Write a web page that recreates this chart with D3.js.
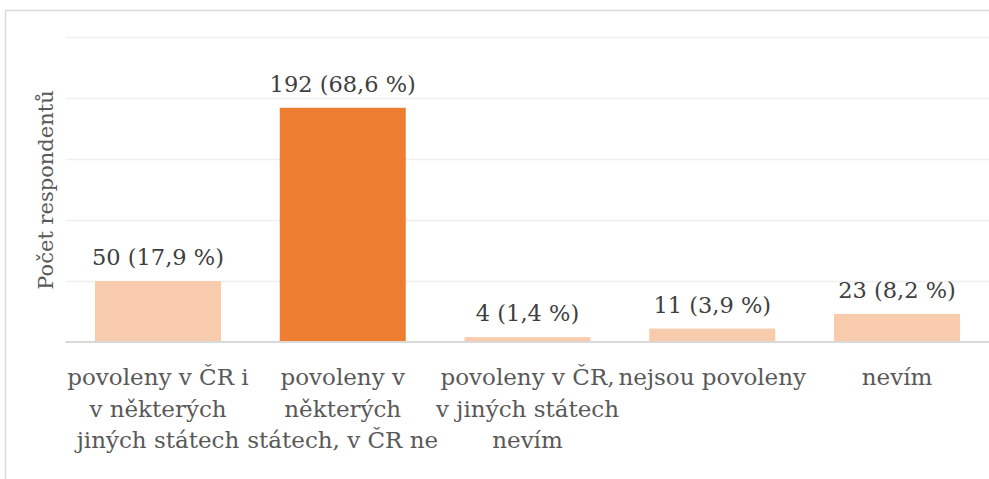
<!DOCTYPE html>
<html>
<head>
<meta charset="utf-8">
<script src="https://cdn.jsdelivr.net/npm/d3@7/dist/d3.min.js"></script>
<style>
  html, body { margin: 0; padding: 0; background: #fff; }
  svg { display: block; }
</style>
</head>
<body>
<svg id="chart" width="989" height="479"></svg>
<script>
// answers (tick labels are wrapped the same way as in the original)
var categories = [
  "povoleny v ČR i v některých jiných státech",
  "povoleny v některých státech, v ČR ne",
  "povoleny v ČR, v jiných státech nevím",
  "nejsou povoleny",
  "nevím"
];
var tickLines = [
  ["povoleny v ČR i", "v některých", "jiných státech"],
  ["povoleny v", "některých", "státech, v ČR ne"],
  ["povoleny v ČR,", "v jiných státech", "nevím"],
  ["nejsou povoleny"],
  ["nevím"]
];
var counts = [50, 192, 4, 11, 23];
var percents = ["17,9", "68,6", "1,4", "3,9", "8,2"];
var yTicks = [0, 50, 100, 150, 200, 250];
var highlight = "povoleny v některých státech, v ČR ne";

var svg = d3.select('#chart');
// Times-like fonts aren't picked up here, DejaVu Serif is
var fontFam = 'DejaVu Serif';

const plotLeft = 65.6, plotRight = 989.4, plotTop = 37, plotBottom = 342;

// chart area frame (runs off the page right and bottom)
svg.append('rect')
  .attr('x', 5.5).attr('y', 10.5)
  .attr('width', 1000).attr('height', 500)
  .attr('fill', 'none')
  .attr('stroke', '#d9d9d9')
  .attr('stroke-width', 1.5);

const xScale = d3.scaleBand()
  .domain(categories)
  .range([plotLeft, plotRight])
  .paddingInner(0.318)
  .paddingOuter(0.159);

const yScale = d3.scaleLinear()
  .domain([0, 250])
  .range([plotBottom, plotTop]);

// horizontal grid
svg.append('g')
  .selectAll('line')
  .data(yTicks.filter(t => t > 0))
  .enter()
  .append('line')
  .attr('x1', plotLeft).attr('x2', plotRight)
  .attr('y1', d => yScale(d) + 0.5)
  .attr('y2', d => yScale(d) + 0.5)
  .attr('stroke', '#efefef')
  .attr('stroke-width', 1.3);

// bars
svg.append('g')
  .selectAll('rect')
  .data(categories)
  .enter()
  .append('rect')
  .attr('x', d => xScale(d))
  .attr('y', (d, i) => yScale(counts[i]))
  .attr('width', xScale.bandwidth())
  .attr('height', (d, i) => yScale(0) - yScale(counts[i]))
  .attr('fill', d => d === highlight ? '#ed7d31' : '#f8cbad');

// x axis line
svg.append('line')
  .attr('x1', plotLeft).attr('x2', plotRight)
  .attr('y1', yScale(0)).attr('y2', yScale(0))
  .attr('stroke', '#d9d9d9')
  .attr('stroke-width', 2);

// value labels
svg.append('g')
  .selectAll('text')
  .data(categories)
  .enter()
  .append('text')
  .attr('x', d => xScale(d) + xScale.bandwidth() / 2)
  .attr('y', (d, i) => yScale(counts[i]) - 16)
  .attr('text-anchor', 'middle')
  .style('font-family', fontFam)
  .attr('font-size', 22.5)
  .attr('fill', '#404040')
  .text((d, i) => `${counts[i]} (${percents[i]} %)`);

// category labels
const tickG = svg.append('g')
  .selectAll('text')
  .data(categories)
  .enter()
  .append('text')
  .attr('text-anchor', 'middle')
  .style('font-family', fontFam)
  .attr('font-size', 23)
  .attr('fill', '#595959');

tickG.each(function (d, i) {
  const cx = xScale(d) + xScale.bandwidth() / 2;
  d3.select(this).selectAll('tspan')
    .data(tickLines[i])
    .enter()
    .append('tspan')
    .attr('x', cx)
    .attr('y', (l, j) => yScale(0) + 43 + j * 31.5)
    .text(l => l);
});

// y axis title
svg.append('text')
  .attr('transform', `translate(53, 190) rotate(-90)`)
  .attr('text-anchor', 'middle')
  .style('font-family', fontFam)
  .attr('font-size', 21)
  .attr('fill', '#595959')
  .text('Počet respondentů');
</script>
</body>
</html>
